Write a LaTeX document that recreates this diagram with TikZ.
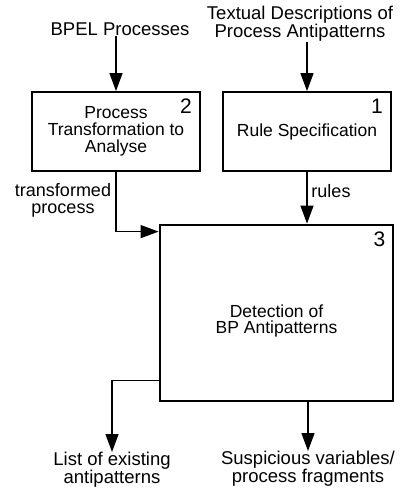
\documentclass[tikz,border=0pt]{standalone}
\usepackage{fontspec}
\setmainfont{Liberation Sans}
\usetikzlibrary{arrows.meta}

\begin{document}
\begin{tikzpicture}[x=1pt,y=-1pt,
		stage/.style={draw,line width=1.8pt,minimum width=168pt,minimum height=79pt,
			inner sep=0pt,font=\fontsize{17.5}{17}\selectfont,align=center},
		outer/.style={inner sep=0pt,font=\fontsize{18.5}{17}\selectfont,align=center},
		edgelbl/.style={inner sep=0pt,font=\fontsize{18}{17}\selectfont,align=center},
		num/.style={inner sep=0pt,anchor=north east,font=\fontsize{21}{21}\selectfont},
		flow/.style={line width=1.3pt,-{Triangle[length=18pt,width=13pt]}}]
		\useasboundingbox (0,0) rectangle (410,490);
		% stages
		\node[stage] (p2) at (116,131.5) {Process\\Transformation to\\Analyse};
		\node[stage] (r1) at (307,131.5) {Rule Specification};
		\node[stage,line width=2.8pt,minimum width=233pt,minimum height=176pt,
			label={[yshift=-8pt,font=\fontsize{17.5}{16}\selectfont,align=center]center:Detection of\\BP Antipatterns}]
			(det) at (276.5,313) {};
		\foreach \S/\N in {p2/2,r1/1,det/3}
		\node[num] at ([shift={(-9pt,-8pt)}]\S.north east) {\N};
		% inputs and outputs
		\node[outer,anchor=south] (bpel) at (120,36) {BPEL Processes};
		\node[outer,anchor=south] (txt) at (300,42) {Textual Descriptions of\\Process Antipatterns};
		\node[outer,anchor=north] (list) at (112,452) {List of existing\\antipatterns};
		\node[outer,anchor=north] (susp) at (308,451) {Suspicious variables/\\process fragments};
		\node[edgelbl,anchor=north] (trans) at (63,183) {transformed\\process};
		\node[edgelbl,anchor=north] (rul) at (331,184) {rules};
		% flows
		\draw[flow] (p2.north |- bpel.south) -- (p2.north);
		\draw[flow] (r1.north |- txt.south) -- (r1.north);
		\draw[flow] (p2.south) |- ([yshift=-8pt]det.north west);
		\draw[flow] (r1.south) -- (r1.south |- det.north);
		\draw[flow] ([yshift=22pt]det.south west) -| (list.north);
		\draw[flow] (det.south -| susp.north) -- (susp.north);
\end{tikzpicture}
\end{document}
